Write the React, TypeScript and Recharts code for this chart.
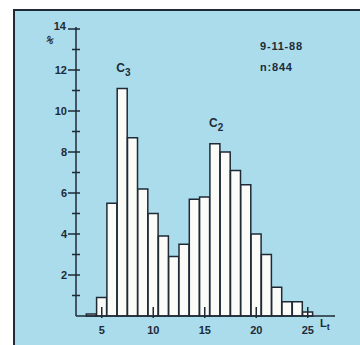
import React from "react";
import { BarChart, Bar, XAxis, YAxis, ReferenceDot } from "recharts";

// Length classes (cm) and share of catch (%) per class
const lengthClasses = [3, 4, 5, 6, 7, 8, 9, 10, 11, 12, 13, 14, 15, 16, 17, 18, 19, 20, 21, 22, 23, 24, 25, 26, 27];
const percentages = [0, 0.1, 0.9, 5.5, 11.1, 8.7, 6.2, 5.0, 3.9, 2.9, 3.5, 5.7, 5.8, 8.4, 8.0, 7.1, 6.4, 4.0, 3.0, 1.4, 0.7, 0.7, 0.2, 0, 0];
const xTickLabels = [5, 10, 15, 20, 25];
const yTicks = [0, 1, 2, 3, 4, 5, 6, 7, 8, 9, 10, 11, 12, 13, 14];
const yLabelTicks = [2, 4, 6, 8, 10, 12, 14];
const cohorts = [
  { name: "C", sub: "3", x: 7, y: 11.9 },
  { name: "C", sub: "2", x: 16, y: 9.2 },
];
const dateLabel = "9-11-88";
const sampleLabel = "n:844";

const data = lengthClasses.map((len, i) => ({ len, pct: percentages[i] }));

const INK = "#1f2a36";
const FONT = "'Liberation Sans', Arial, sans-serif";
const AXIS_X = 76;
const AXIS_Y = 316;

const XTick = (props: any) => {
  const { x, payload } = props;
  if (!xTickLabels.includes(payload.value)) return null;
  return (
    <g>
      <line x1={x} x2={x} y1={AXIS_Y - 9} y2={AXIS_Y + 2} stroke={INK} strokeWidth={1.5} />
      <text x={x} y={AXIS_Y + 18} textAnchor="middle" fill={INK} fontSize={11} fontWeight="bold" fontFamily={FONT}>
        {payload.value}
      </text>
    </g>
  );
};

const YTick = (props: any) => {
  const { y, payload } = props;
  const v = payload.value;
  const major = yLabelTicks.includes(v);
  const top = v === 14;
  return (
    <g>
      {v > 0 && (
        <line x1={major ? AXIS_X - 8 : AXIS_X - 4} x2={AXIS_X + 4} y1={y} y2={y} stroke={INK} strokeWidth={1.5} />
      )}
      {major && (
        <text
          x={top ? AXIS_X - 10 : AXIS_X - 9}
          y={top ? y + 1 : y + 4}
          textAnchor="end"
          fill={INK}
          fontSize={11}
          fontWeight="bold"
          fontFamily={FONT}
        >
          {v}
        </text>
      )}
    </g>
  );
};

const CohortLabel = ({ viewBox, name, sub }: any) => {
  const cx = viewBox.x + viewBox.width / 2;
  const cy = viewBox.y + viewBox.height / 2;
  return (
    <text x={cx - 6} y={cy} fill={INK} fontSize={12} fontWeight="bold" fontFamily={FONT}>
      {name}
      <tspan fontSize={10} dy={4}>{sub}</tspan>
    </text>
  );
};

export default function App() {
  return (
    <div style={{ position: "absolute", left: 0, top: 0, width: 360, height: 345, background: "#ffffff", overflow: "hidden" }}>
      <div
        style={{
          position: "absolute",
          left: 13,
          top: 9,
          right: 0,
          bottom: 0,
          background: "#aadcec",
          borderLeft: `2px solid ${INK}`,
          borderTop: `2px solid ${INK}`,
        }}
      />
      <div style={{ position: "absolute", left: 0, top: 0 }}>
        <BarChart
          width={360}
          height={345}
          data={data}
          margin={{ top: 29, right: 26.5, bottom: 0, left: 0 }}
          barCategoryGap={0}
          barGap={0}
        >
          <YAxis
            type="number"
            domain={[0, 14]}
            ticks={yTicks}
            interval={0}
            width={76}
            tickLine={false}
            axisLine={{ stroke: INK, strokeWidth: 1.5 }}
            tick={<YTick />}
          />
          <Bar dataKey="pct" fill="#fbfbf8" stroke={INK} strokeWidth={1.5} isAnimationActive={false} />
          <XAxis
            dataKey="len"
            type="category"
            interval={0}
            height={29}
            tickLine={false}
            axisLine={{ stroke: INK, strokeWidth: 1.5 }}
            tick={<XTick />}
          />
          {cohorts.map((c) => (
            <ReferenceDot
              key={c.sub}
              x={c.x}
              y={c.y}
              r={0}
              fill="none"
              stroke="none"
              label={<CohortLabel name={c.name} sub={c.sub} />}
            />
          ))}
        </BarChart>
      </div>
      <svg width={360} height={345} style={{ position: "absolute", left: 0, top: 0, pointerEvents: "none" }}>
        <line x1={AXIS_X} x2={AXIS_X} y1={27} y2={30} stroke={INK} strokeWidth={1.5} />
        <line x1={333} x2={335} y1={AXIS_Y} y2={AXIS_Y} stroke={INK} strokeWidth={1.5} />
        <text x={46} y={43} fill={INK} fontSize={9} fontWeight="bold" fontFamily={FONT} transform="rotate(35 50 40)">%</text>
        <text x={260} y={50} fill={INK} fontSize={11} fontWeight="bold" fontFamily={FONT} letterSpacing={0.8}>{dateLabel}</text>
        <text x={260} y={71} fill={INK} fontSize={11} fontWeight="bold" fontFamily={FONT} letterSpacing={0.8}>{sampleLabel}</text>
        <text x={320} y={327} fill={INK} fontSize={11} fontWeight="bold" fontFamily={FONT}>
          L<tspan fontSize={9} dy={3}>t</tspan>
        </text>
      </svg>
    </div>
  );
}
